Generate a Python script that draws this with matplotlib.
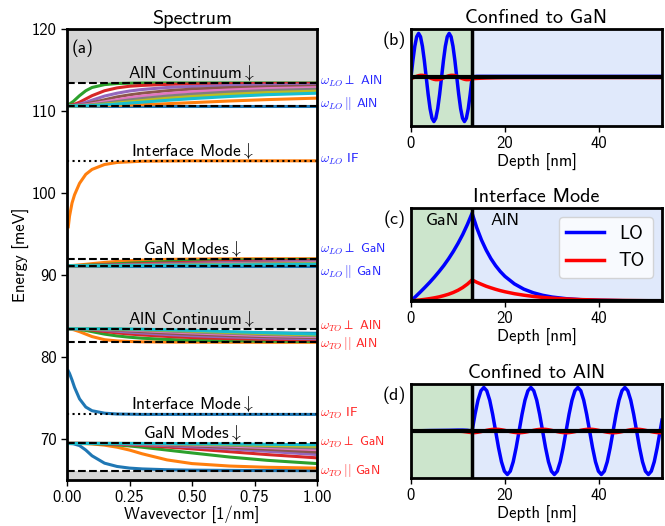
"""
Phonon spectrum of a GaN/AlN slab with representative mode profiles.
"""

import numpy as np
import matplotlib
matplotlib.use("Agg")
import matplotlib.pyplot as plt
import matplotlib.transforms as mtransforms

plt.rcParams["font.family"] = ["cmss10", "DejaVu Sans"]
plt.rcParams["mathtext.fontset"] = "cm"
plt.rcParams["axes.unicode_minus"] = False
plt.rcParams["font.size"] = 12

# ---------------------------------------------------------------- spectrum
wavevector = [0, 0.025, 0.05, 0.075, 0.1, 0.15, 0.2, 0.25, 0.3, 0.4, 0.5, 0.65, 0.8, 1.0]

aln_lo_modes = [
    [110.66] * 14,
    [110.66, 110.66, 110.66, 110.67, 110.67, 110.69, 110.72, 110.76, 110.8, 110.92, 111.05, 111.25, 111.42, 111.6],
    [110.66, 111.2, 111.9, 112.5, 112.9, 113.25, 113.38, 113.42, 113.44, 113.45, 113.45, 113.45, 113.45, 113.45],
    [110.66, 110.8, 111.1, 111.5, 111.9, 112.5, 112.85, 113.05, 113.15, 113.28, 113.33, 113.37, 113.39, 113.4],
    [110.66, 110.7, 110.85, 111.08, 111.35, 111.85, 112.2, 112.47, 112.65, 112.9, 113.02, 113.13, 113.19, 113.22],
    [110.66, 110.68, 110.75, 110.88, 111.05, 111.4, 111.75, 112.0, 112.2, 112.5, 112.7, 112.88, 112.98, 113.05],
    [110.66, 110.67, 110.7, 110.78, 110.9, 111.15, 111.4, 111.65, 111.85, 112.15, 112.38, 112.6, 112.76, 112.88],
    [110.66, 110.66, 110.68, 110.72, 110.8, 110.98, 111.18, 111.38, 111.55, 111.85, 112.08, 112.35, 112.53, 112.68],
    [110.66, 110.66, 110.67, 110.69, 110.74, 110.86, 111.0, 111.15, 111.3, 111.58, 111.8, 112.07, 112.28, 112.45],
    [110.66, 110.66, 110.66, 110.68, 110.7, 110.78, 110.88, 111.0, 111.1, 111.33, 111.54, 111.8, 112.02, 112.2],
]

gan_lo_modes = [
    [91.15] * 14,
    [91.15, 91.18, 91.25, 91.32, 91.4, 91.55, 91.67, 91.76, 91.83, 91.92, 91.96, 91.99, 92.0, 92.0],
    [91.15, 91.15, 91.17, 91.2, 91.23, 91.3, 91.38, 91.46, 91.53, 91.65, 91.74, 91.83, 91.88, 91.92],
    [91.15, 91.15, 91.16, 91.17, 91.19, 91.23, 91.28, 91.33, 91.38, 91.48, 91.56, 91.66, 91.74, 91.8],
    [91.15, 91.15, 91.15, 91.16, 91.17, 91.2, 91.23, 91.27, 91.3, 91.38, 91.45, 91.54, 91.62, 91.69],
    [91.15, 91.15, 91.15, 91.15, 91.16, 91.18, 91.2, 91.23, 91.26, 91.32, 91.38, 91.46, 91.53, 91.6],
    [91.15, 91.15, 91.15, 91.15, 91.16, 91.17, 91.18, 91.2, 91.22, 91.27, 91.32, 91.39, 91.46, 91.52],
    [91.15, 91.15, 91.15, 91.15, 91.15, 91.16, 91.17, 91.18, 91.2, 91.23, 91.27, 91.33, 91.39, 91.45],
    [91.15, 91.15, 91.15, 91.15, 91.15, 91.15, 91.16, 91.17, 91.18, 91.2, 91.23, 91.28, 91.33, 91.38],
    [91.15, 91.15, 91.15, 91.15, 91.15, 91.15, 91.15, 91.16, 91.17, 91.18, 91.2, 91.24, 91.28, 91.32],
]

aln_to_modes = [
    [83.45, 83.45, 83.44, 83.42, 83.4, 83.36, 83.31, 83.27, 83.23, 83.15, 83.09, 83.01, 82.95, 82.9],
    [83.45, 83.35, 83.1, 82.8, 82.5, 82.12, 81.97, 81.9, 81.86, 81.83, 81.82, 81.81, 81.8, 81.8],
    [83.45, 83.43, 83.35, 83.25, 83.1, 82.8, 82.58, 82.42, 82.3, 82.15, 82.06, 81.99, 81.94, 81.9],
    [83.45, 83.44, 83.42, 83.38, 83.3, 83.12, 82.95, 82.81, 82.7, 82.52, 82.38, 82.25, 82.16, 82.08],
    [83.45, 83.45, 83.44, 83.42, 83.38, 83.28, 83.15, 83.03, 82.93, 82.75, 82.6, 82.45, 82.33, 82.24],
    [83.45, 83.45, 83.45, 83.44, 83.42, 83.36, 83.28, 83.19, 83.1, 82.93, 82.79, 82.62, 82.49, 82.38],
    [83.45, 83.45, 83.45, 83.45, 83.44, 83.41, 83.36, 83.3, 83.23, 83.08, 82.95, 82.77, 82.62, 82.5],
    [83.45, 83.45, 83.45, 83.45, 83.45, 83.43, 83.4, 83.36, 83.31, 83.19, 83.07, 82.9, 82.75, 82.6],
    [83.45, 83.45, 83.45, 83.45, 83.45, 83.44, 83.42, 83.39, 83.36, 83.27, 83.17, 83.01, 82.86, 82.7],
    [83.45, 83.45, 83.45, 83.45, 83.45, 83.45, 83.44, 83.42, 83.4, 83.33, 83.25, 83.1, 82.96, 82.8],
]

gan_to_modes = [
    [69.46, 69.42, 69.2, 68.65, 67.95, 67.05, 66.65, 66.45, 66.35, 66.25, 66.2, 66.17, 66.15, 66.14],
    [69.46, 69.46, 69.45, 69.43, 69.4, 69.25, 69.0, 68.65, 68.2, 67.45, 67.0, 66.7, 66.55, 66.45],
    [69.46, 69.46, 69.46, 69.45, 69.44, 69.38, 69.28, 69.15, 69.0, 68.65, 68.3, 67.8, 67.4, 67.0],
    [69.46, 69.46, 69.46, 69.46, 69.45, 69.42, 69.37, 69.3, 69.22, 69.02, 68.8, 68.45, 68.1, 67.7],
    [69.46, 69.46, 69.46, 69.46, 69.46, 69.44, 69.41, 69.37, 69.32, 69.19, 69.04, 68.78, 68.5, 68.1],
    [69.46, 69.46, 69.46, 69.46, 69.46, 69.45, 69.43, 69.4, 69.37, 69.28, 69.17, 68.98, 68.75, 68.4],
    [69.46, 69.46, 69.46, 69.46, 69.46, 69.46, 69.45, 69.43, 69.41, 69.35, 69.27, 69.13, 68.95, 68.7],
    [69.46, 69.46, 69.46, 69.46, 69.46, 69.46, 69.46, 69.45, 69.44, 69.4, 69.34, 69.24, 69.1, 68.9],
    [69.46, 69.46, 69.46, 69.46, 69.46, 69.46, 69.46, 69.46, 69.45, 69.43, 69.39, 69.32, 69.22, 69.1],
    [69.46, 69.46, 69.46, 69.46, 69.46, 69.46, 69.46, 69.46, 69.46, 69.45, 69.43, 69.4, 69.36, 69.3],
]

# interface branches start just off q = 0
if_wavevector = [0.005, 0.01, 0.02, 0.03, 0.05, 0.075, 0.1, 0.15, 0.2, 0.3, 0.5, 1.0]
if_lo_mode = [95.9, 97.2, 98.8, 99.8, 101.2, 102.3, 102.9, 103.5, 103.75, 103.9, 103.95, 103.95]
if_to_mode = [78.3, 78.0, 77.2, 76.3, 74.9, 73.9, 73.45, 73.15, 73.05, 73.0, 73.0, 73.0]

# bulk reference energies (meV)
lo_levels = [113.5, 110.66, 103.95, 92.0, 91.15]
to_levels = [83.45, 81.8, 73.0, 69.46, 66.13]
level_styles = ["--", "--", ":", "--", "--"]
lo_names = [r"$\omega_{LO}\perp$ AlN", r"$\omega_{LO}\,||$ AlN", r"$\omega_{LO}$ IF",
            r"$\omega_{LO}\perp$ GaN", r"$\omega_{LO}\,||$ GaN"]
to_names = [r"$\omega_{TO}\perp$ AlN", r"$\omega_{TO}\,||$ AlN", r"$\omega_{TO}$ IF",
            r"$\omega_{TO}\perp$ GaN", r"$\omega_{TO}\,||$ GaN"]
lo_label_y = [113.6, 110.9, 104.1, 93.1, 90.4]
to_label_y = [83.75, 81.7, 73.1, 69.6, 66.2]

# gaps with no modes
gap_bands = [(113.5, 120.0), (83.45, 91.15), (65.0, 66.13)]

band_titles = ["AlN Continuum", "Interface Mode", "GaN Modes",
               "AlN Continuum", "Interface Mode", "GaN Modes"]
band_tops = [113.5, 103.95, 92.0, 83.45, 73.0, 69.46]

# ------------------------------------------------------------ mode profiles
well_width = 13.0
depth_max = 53.4

# (b) mode confined to GaN
depth_b = np.concatenate([np.linspace(0, 13, 33), [13.5, 14, 15, 16, 18, 20, 25, 30, 40, 53.4]])
lo_b = [0, .383, .707, .924, 1, .924, .707, .383, 0, -.383, -.707, -.924, -1, -.924, -.707, -.383,
        0, .383, .707, .924, 1, .924, .707, .383, 0, -.383, -.707, -.924, -1, -.924, -.707, -.383,
        0, .02, .025, .025, .025, .025, .025, .025, .025, .025, .025]
to_b = [-.029, -.010, .009, .027, .041, .049, .049, .042, .029, .010, -.009, -.027, -.041, -.049, -.049, -.042,
        -.029, -.010, .009, .027, .041, .049, .049, .042, .029, .010, -.009, -.027, -.041, -.049, -.049, -.042,
        -.029, -.025, -.021, -.016, -.012, -.007, -.004, -.001, 0, 0, 0]

# (c) interface mode
depth_c = [0, 1, 2, 3, 4, 5, 6, 7, 8, 9, 10, 11, 12, 13,
           14, 15, 16, 17, 18, 19, 20, 22, 24, 26, 28, 30, 33, 36, 40, 45, 50, 53.4]
lo_c = [0, .051, .103, .157, .213, .273, .337, .405, .481, .564, .656, .757, .872, 1.0,
        .834, .695, .580, .483, .403, .336, .280, .195, .135, .094, .065, .045, .026, .015, .0074, .003, .0012, .0006]
to_c = [0, .006, .012, .019, .027, .036, .047, .061, .077, .097, .122, .153, .192, .24,
        .213, .190, .168, .150, .133, .118, .105, .083, .066, .052, .041, .032, .023, .016, .010, .0055, .003, .002]

# (d) mode confined to AlN
depth_d = np.concatenate([[0, 4, 8, 10, 11, 12], np.linspace(13, 53, 65), [53.4]])
lo_d = [0, .01, .015, .02, .02, .015,
        0, .383, .707, .924, 1, .924, .707, .383, 0, -.383, -.707, -.924, -1, -.924, -.707, -.383,
        0, .383, .707, .924, 1, .924, .707, .383, 0, -.383, -.707, -.924, -1, -.924, -.707, -.383,
        0, .383, .707, .924, 1, .924, .707, .383, 0, -.383, -.707, -.924, -1, -.924, -.707, -.383,
        0, .383, .707, .924, 1, .924, .707, .383, 0, -.383, -.707, -.924, -1, -.924, -.707, -.383,
        0, .25]
to_d = [0, 0, 0, -.004, -.01, -.024,
        -.04, -.037, -.028, -.015, 0, .015, .028, .037, .04, .037, .028, .015, 0, -.015, -.028, -.037,
        -.04, -.037, -.028, -.015, 0, .015, .028, .037, .04, .037, .028, .015, 0, -.015, -.028, -.037,
        -.04, -.037, -.028, -.015, 0, .015, .028, .037, .04, .037, .028, .015, 0, -.015, -.028, -.037,
        -.04, -.037, -.028, -.015, 0, .015, .028, .037, .04, .037, .028, .015, 0, -.015, -.028, -.037,
        -.04, -.039]


def style_frame(ax):
    for sp in ax.spines.values():
        sp.set_linewidth(2)
    ax.tick_params(direction="out", length=4, width=1)


def draw_profile(ax, depth, lo, to, ylim, letter, title):
    ax.axvspan(0, well_width, color="green", alpha=0.2, lw=0, zorder=0)
    ax.axvspan(well_width, depth_max, color="cornflowerblue", alpha=0.2, lw=0, zorder=0)
    ax.plot(depth, lo, color="blue", lw=2.5, label="LO", zorder=2)
    ax.plot(depth, to, color="red", lw=2.5, label="TO", zorder=2)
    ax.axhline(0, color="black", lw=3, zorder=3)
    ax.axvline(well_width, color="black", lw=2.5, zorder=3)
    ax.set_xlim(0, depth_max)
    ax.set_ylim(*ylim)
    ax.set_yticks([])
    ax.set_xticks([0, 20, 40])
    ax.set_xlabel("Depth [nm]", labelpad=2)
    ax.set_title(title, fontsize=14.5, pad=4)
    ax.text(-0.065, 0.88, letter, transform=ax.transAxes, ha="center", va="center", fontsize=13)
    style_frame(ax)


fig = plt.figure(figsize=(6.65, 5.26), dpi=100)

ax = fig.add_axes([0.1008, 0.0875, 0.3759, 0.8568])
for lo, hi in gap_bands:
    ax.axhspan(lo, hi, color="#d6d6d6", lw=0, zorder=0)

for group in (aln_lo_modes, gan_lo_modes, aln_to_modes, gan_to_modes):
    for i, mode in enumerate(group):
        ax.plot(wavevector, mode, color=f"C{i}", lw=2.2, zorder=2)
ax.plot(if_wavevector, if_lo_mode, color="C1", lw=2.2, zorder=2)
ax.plot(if_wavevector, if_to_mode, color="C0", lw=2.2, zorder=2)

for levels in (lo_levels, to_levels):
    for e, ls in zip(levels, level_styles):
        ax.axhline(e, color="black", ls=ls, lw=1.5, zorder=3)

for name, e in zip(band_titles, band_tops):
    ax.text(0.5, e, name + r"$\downarrow$", ha="center", va="bottom", fontsize=12.5, zorder=4)

trans = mtransforms.blended_transform_factory(ax.transAxes, ax.transData)
for name, e in zip(lo_names, lo_label_y):
    ax.text(1.012, e, name, transform=trans, color="blue", alpha=0.85,
            fontsize=9.5, va="center", ha="left", clip_on=False)
for name, e in zip(to_names, to_label_y):
    ax.text(1.012, e, name, transform=trans, color="red", alpha=0.85,
            fontsize=9.5, va="center", ha="left", clip_on=False)

ax.text(0.02, 117.7, "(a)", fontsize=12.5, va="center")
ax.set_xlim(0, 1)
ax.set_ylim(65, 120)
ax.set_xticks([0, 0.25, 0.5, 0.75, 1.0])
ax.set_xticklabels(["0.00", "0.25", "0.50", "0.75", "1.00"])
ax.set_yticks([70, 80, 90, 100, 110, 120])
ax.set_xlabel("Wavevector [1/nm]", labelpad=0)
ax.set_ylabel("Energy [meV]", labelpad=1)
ax.set_title("Spectrum", fontsize=14.5, pad=4)
style_frame(ax)

ax_b = fig.add_axes([0.618, 0.7605, 0.3775, 0.1844])
draw_profile(ax_b, depth_b, lo_b, to_b, (-1.1, 1.1), "(b)", "Confined to GaN")

ax_c = fig.add_axes([0.618, 0.4278, 0.3775, 0.1768])
draw_profile(ax_c, depth_c, lo_c, to_c, (0, 1.06), "(c)", "Interface Mode")
ax_c.text(6.8, 0.87, "GaN", ha="center", va="center", fontsize=13,
          transform=mtransforms.blended_transform_factory(ax_c.transData, ax_c.transAxes))
ax_c.text(20, 0.87, "AlN", ha="center", va="center", fontsize=13,
          transform=mtransforms.blended_transform_factory(ax_c.transData, ax_c.transAxes))
ax_c.legend(loc="upper right", fontsize=13.5, handlelength=2.0)

ax_d = fig.add_axes([0.618, 0.0913, 0.3775, 0.1787])
draw_profile(ax_d, depth_d, lo_d, to_d, (-1.08, 1.08), "(d)", "Confined to AlN")

fig.savefig("out.png", dpi=100)
